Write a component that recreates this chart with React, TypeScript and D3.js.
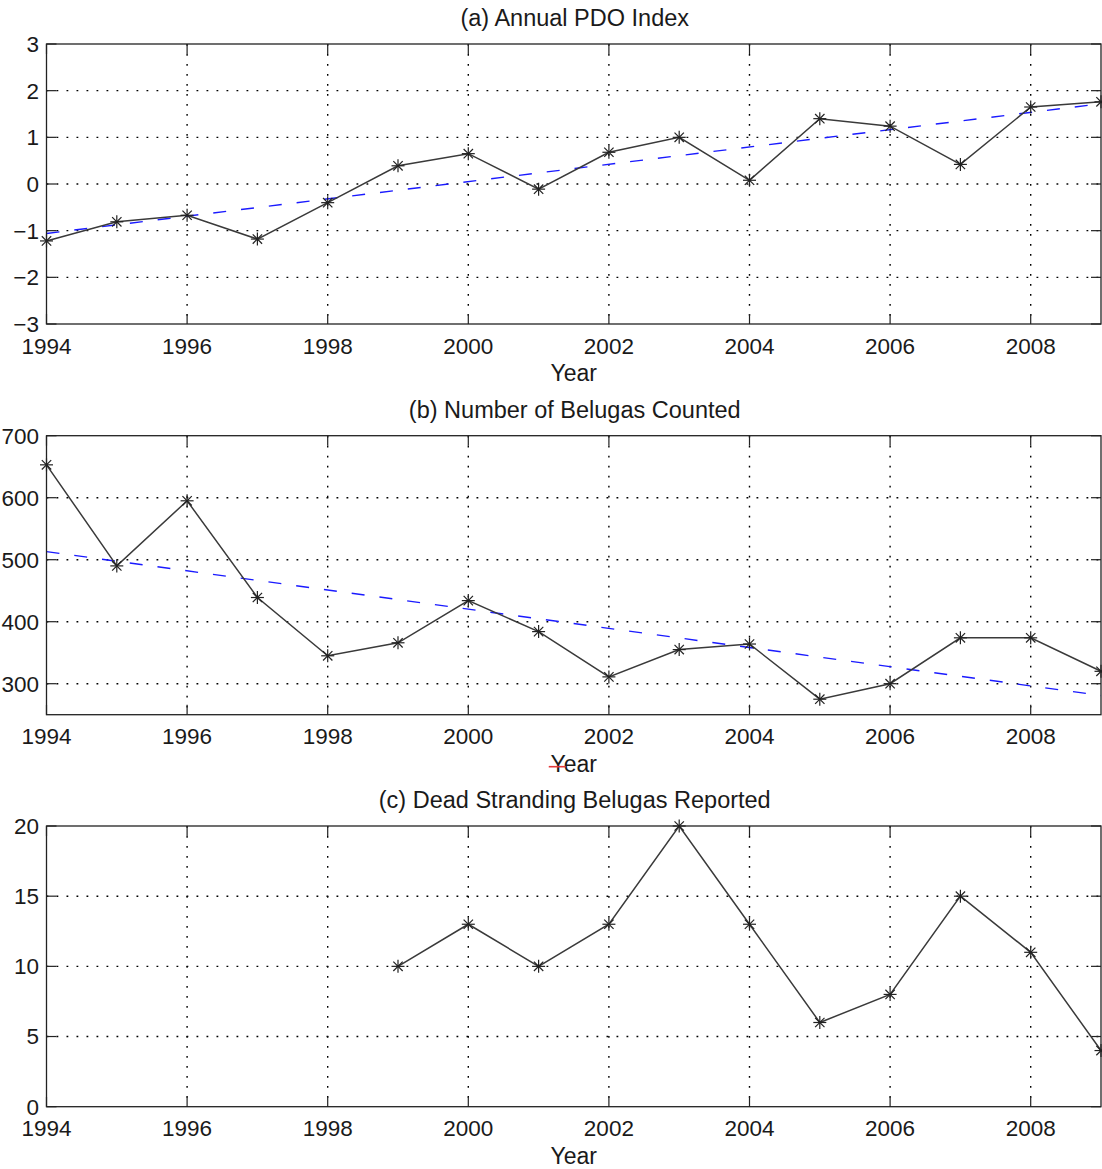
import React from "react";
import * as d3 from "d3";

// ---- data ----
const years = [1994, 1995, 1996, 1997, 1998, 1999, 2000, 2001, 2002, 2003, 2004, 2005, 2006, 2007, 2008, 2009];
const pdoIndex = [-1.22, -0.81, -0.67, -1.18, -0.40, 0.39, 0.65, -0.11, 0.68, 1.0, 0.08, 1.40, 1.24, 0.42, 1.65, 1.76];
const pdoTrendEnds = [-1.06, 1.72];
const belugasCounted = [653, 490, 595, 439, 345, 366, 434, 384, 311, 355, 364, 275, 300, 374, 374, 320];
const belugaTrendEnds = [513, 281];
const strandingYears = [1999, 2000, 2001, 2002, 2003, 2004, 2005, 2006, 2007, 2008, 2009];
const deadStrandings = [10, 13, 10, 13, 20, 13, 6, 8, 15, 11, 4];
const trendYears = [1994, 2009];
const xTicks = [1994, 1996, 1998, 2000, 2002, 2004, 2006, 2008];
const pdoTicks = [-3, -2, -1, 0, 1, 2, 3];
const belugaTicks = [300, 400, 500, 600, 700];
const strandTicks = [0, 5, 10, 15, 20];
const titles = ["(a) Annual PDO Index", "(b) Number of Belugas Counted", "(c) Dead Stranding Belugas Reported"];

const W = 1102;
const H = 1169;
const left = 46.5;
const right = 1101;
const FONT = "'Liberation Sans', Arial, Helvetica, sans-serif";

type Panel = {
  title: string;
  top: number;
  bottom: number;
  domain: [number, number];
  ticks: number[];
  xs: number[];
  ys: number[];
  trend?: number[];
  strike?: boolean;
};

const panels: Panel[] = [
  { title: titles[0], top: 44, bottom: 324, domain: [-3, 3], ticks: pdoTicks, xs: years, ys: pdoIndex, trend: pdoTrendEnds },
  { title: titles[1], top: 435.7, bottom: 714.7, domain: [250, 700], ticks: belugaTicks, xs: years, ys: belugasCounted, trend: belugaTrendEnds, strike: true },
  { title: titles[2], top: 826, bottom: 1106.7, domain: [0, 20], ticks: strandTicks, xs: strandingYears, ys: deadStrandings },
];

const x = d3.scaleLinear().domain([1994, 2009]).range([left, right]);

function Asterisk({ cx, cy }: { cx: number; cy: number }) {
  const r = 6.5;
  const d = r * 0.72;
  return (
    <g stroke="#222" strokeWidth={1.2}>
      <line x1={cx - r} y1={cy} x2={cx + r} y2={cy} />
      <line x1={cx} y1={cy - r} x2={cx} y2={cy + r} />
      <line x1={cx - d} y1={cy - d} x2={cx + d} y2={cy + d} />
      <line x1={cx - d} y1={cy + d} x2={cx + d} y2={cy - d} />
    </g>
  );
}

function PanelView({ p }: { p: Panel }) {
  const y = d3.scaleLinear().domain(p.domain).range([p.bottom, p.top]);
  const line = d3
    .line<number>()
    .x((_, i) => x(p.xs[i]))
    .y((v) => y(v));
  const trendLine = p.trend
    ? d3
        .line<number>()
        .x((_, i) => x(trendYears[i]))
        .y((v) => y(v))(p.trend)
    : null;
  const cx = (left + right) / 2;
  const tickLen = 10;
  return (
    <g>
      {/* grid */}
      <g stroke="#000" strokeWidth={1.4} strokeDasharray="1.8,8.2">
        {xTicks.slice(1).map((t) => (
          <line key={"gx" + t} x1={x(t)} x2={x(t)} y1={p.top} y2={p.bottom} />
        ))}
        {p.ticks
          .filter((t) => y(t) > p.top + 1 && y(t) < p.bottom - 1)
          .map((t) => (
            <line key={"gy" + t} x1={left} x2={right} y1={y(t)} y2={y(t)} />
          ))}
      </g>
      {/* ticks */}
      <g stroke="#222" strokeWidth={1.2}>
        {xTicks.map((t) => (
          <g key={"tx" + t}>
            <line x1={x(t)} x2={x(t)} y1={p.bottom} y2={p.bottom - tickLen} />
            <line x1={x(t)} x2={x(t)} y1={p.top} y2={p.top + tickLen} />
          </g>
        ))}
        {p.ticks.map((t) => (
          <g key={"ty" + t}>
            <line x1={left} x2={left + tickLen} y1={y(t)} y2={y(t)} />
            <line x1={right} x2={right - tickLen} y1={y(t)} y2={y(t)} />
          </g>
        ))}
      </g>
      {/* trend */}
      {trendLine && (
        <path d={trendLine} fill="none" stroke="#1a1aff" strokeWidth={1.4} strokeDasharray="13,15" />
      )}
      {/* data */}
      <path d={line(p.ys) || ""} fill="none" stroke="#3a3a3a" strokeWidth={1.5} />
      {p.ys.map((v, i) => (
        <Asterisk key={"m" + i} cx={x(p.xs[i])} cy={y(v)} />
      ))}
      {/* box */}
      <rect x={left} y={p.top} width={right - left} height={p.bottom - p.top} fill="none" stroke="#222" strokeWidth={1.3} />
      {/* labels */}
      <g fontFamily={FONT} fontSize={22.5} fill="#1a1a1a">
        {xTicks.map((t) => (
          <text key={"lx" + t} x={x(t)} y={p.bottom + 29.5} textAnchor="middle">
            {t}
          </text>
        ))}
        {p.ticks.map((t) => (
          <text key={"ly" + t} x={39} y={y(t)} dy="0.35em" textAnchor="end">
            {t < 0 ? "\u2212" + Math.abs(t) : t}
          </text>
        ))}
        <text x={cx} y={p.bottom + 57} textAnchor="middle" fontSize={23}>Year</text>
        <text x={cx + 1} y={p.top - 18} textAnchor="middle" fontSize={23.5}>{p.title}</text>
      </g>
      {p.strike && (
        <line x1={cx - 25} x2={cx - 8} y1={p.bottom + 52} y2={p.bottom + 52} stroke="#e23a3a" strokeWidth={1.6} />
      )}
    </g>
  );
}

export default function App() {
  return (
    <svg
      width={W}
      height={H}
      viewBox={`0 0 ${W} ${H}`}
      style={{ position: "absolute", left: 0, top: 0, background: "#fff" }}
    >
      <rect width={W} height={H} fill="#fff" />
      {panels.map((p, i) => (
        <PanelView key={i} p={p} />
      ))}
    </svg>
  );
}
